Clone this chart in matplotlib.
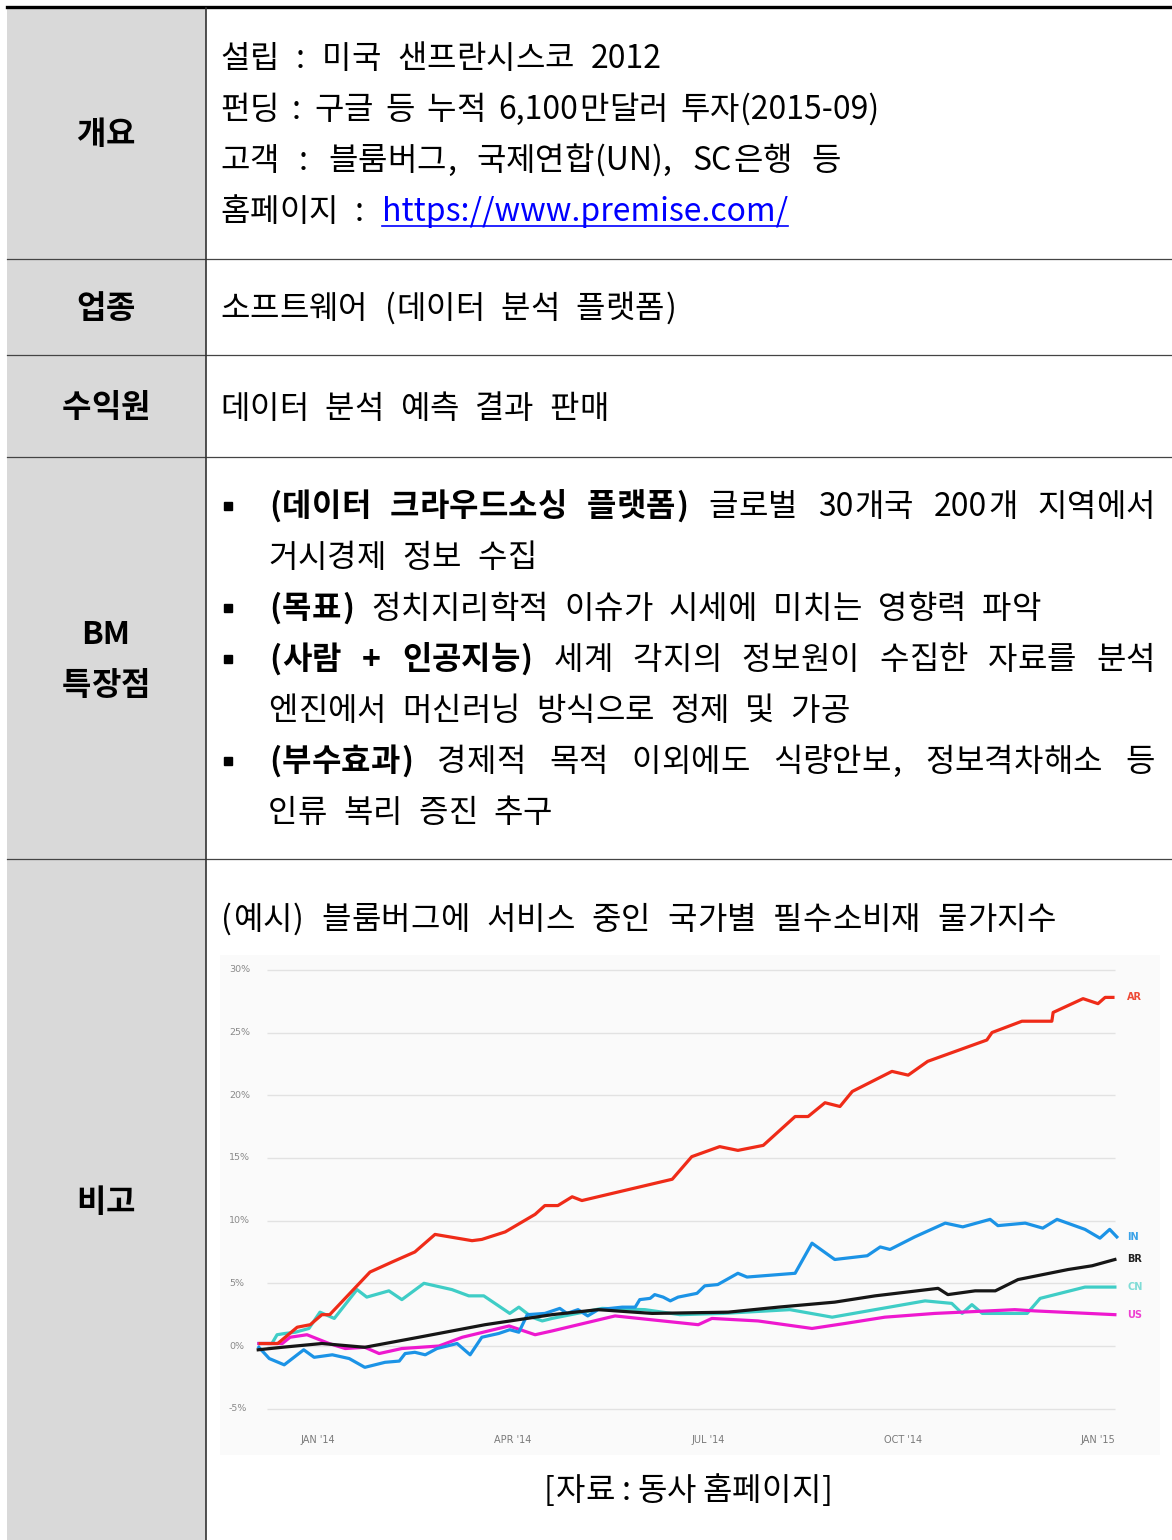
import matplotlib
matplotlib.use('Agg')
import matplotlib.pyplot as plt
from matplotlib.patches import Rectangle

plt.rcParams['font.family'] = ['Noto Sans CJK KR', 'DejaVu Sans']

# ---- chart data: x = months since Jan 2014, y = % change ----
ar_m = [-0.89, -0.62, -0.32, -0.12, 0.06, 0.18, 0.80, 1.14, 1.49, 1.80, 2.37, 2.52, 2.88,
        3.34, 3.49, 3.69, 3.91, 4.06, 5.45, 5.75, 6.18, 6.46, 6.85, 7.34, 7.54, 7.80, 8.03,
        8.22, 8.83, 9.08, 9.38, 10.29, 10.37, 10.83, 11.29, 11.31, 11.77, 12.00, 12.11, 12.23]
ar_v = [0.2, 0.2, 1.5, 1.7, 2.5, 2.5, 5.9, 6.7, 7.5, 8.9, 8.4, 8.5, 9.1,
        10.5, 11.2, 11.2, 11.9, 11.6, 13.3, 15.1, 15.9, 15.6, 16.0, 18.3, 18.3, 19.4, 19.1,
        20.3, 21.9, 21.6, 22.7, 24.4, 25.0, 25.9, 25.9, 26.6, 27.7, 27.3, 27.8, 27.8]

in_m = [-0.91, -0.75, -0.52, -0.22, -0.06, 0.22, 0.48, 0.72, 1.03, 1.25, 1.34, 1.49, 1.65,
        1.83, 2.14, 2.34, 2.52, 2.78, 2.95, 3.09, 3.22, 3.49, 3.72, 3.83, 4.00, 4.15, 4.31,
        4.68, 4.88, 4.95, 5.11, 5.18, 5.31, 5.42, 5.54, 5.83, 5.95, 6.15, 6.46, 6.60, 7.34,
        7.60, 7.95, 8.45, 8.65, 8.80, 9.18, 9.65, 9.92, 10.34, 10.46, 10.88, 11.15, 11.37,
        11.80, 12.03, 12.18, 12.29]
in_v = [-0.1, -1.0, -1.5, -0.3, -0.9, -0.7, -1.0, -1.7, -1.3, -1.2, -0.6, -0.5, -0.7,
        -0.2, 0.2, -0.7, 0.7, 1.0, 1.3, 1.1, 2.5, 2.6, 3.0, 2.6, 2.9, 2.4, 2.9,
        3.1, 3.1, 3.7, 3.8, 4.1, 3.9, 3.6, 3.9, 4.2, 4.8, 4.9, 5.8, 5.5, 5.8,
        8.2, 6.9, 7.2, 7.9, 7.7, 8.7, 9.8, 9.5, 10.1, 9.6, 9.8, 9.4, 10.1,
        9.3, 8.6, 9.3, 8.7]

br_m = [-0.92, -0.55, 0.06, 0.72, 1.55, 2.57, 3.60, 4.31, 5.14, 6.31, 7.08, 7.95, 8.57,
        9.54, 9.69, 10.11, 10.42, 10.77, 11.54, 11.91, 12.26]
br_v = [-0.3, -0.1, 0.2, -0.1, 0.7, 1.7, 2.5, 2.9, 2.6, 2.7, 3.1, 3.5, 4.0,
        4.6, 4.1, 4.4, 4.4, 5.3, 6.1, 6.4, 6.9]

cn_m = [-0.91, -0.71, -0.63, -0.51, -0.35, -0.14, 0.03, 0.25, 0.60, 0.75, 1.09, 1.29, 1.63,
        2.06, 2.32, 2.55, 2.95, 3.09, 3.29, 3.45, 3.60, 4.37, 5.03, 5.57, 6.23, 7.26, 7.91,
        9.34, 9.75, 9.91, 10.06, 10.22, 10.91, 11.11, 11.80, 12.26]
cn_v = [0.2, 0.2, 0.9, 1.0, 1.1, 1.4, 2.7, 2.2, 4.5, 3.9, 4.4, 3.7, 5.0,
        4.5, 4.0, 4.0, 2.6, 3.1, 2.3, 2.0, 2.2, 3.0, 2.9, 2.5, 2.6, 2.9, 2.3,
        3.6, 3.4, 2.6, 3.3, 2.6, 2.6, 3.8, 4.7, 4.7]

us_m = [-0.91, -0.55, -0.43, -0.17, 0.17, 0.42, 0.72, 0.94, 1.29, 1.86, 2.22, 2.94, 3.34,
        3.60, 4.57, 5.85, 6.06, 6.77, 7.60, 8.11, 8.72, 9.49, 10.72, 11.03, 12.26]
us_v = [0.2, 0.2, 0.7, 0.9, 0.2, -0.2, -0.1, -0.6, -0.2, 0.0, 0.7, 1.6, 0.9,
        1.2, 2.4, 1.7, 2.2, 2.0, 1.4, 1.8, 2.3, 2.6, 2.9, 2.8, 2.5]

y_ticks = [-5, 0, 5, 10, 15, 20, 25, 30]
x_ticks = [0, 3, 6, 9, 12]
x_tick_labels = ["JAN '14", "APR '14", "JUL '14", "OCT '14", "JAN '15"]

# ---- table text ----
row_labels = [['개요'], ['업종'], ['수익원'], ['BM', '특장점'], ['비고']]
overview = ['설립 : 미국 샌프란시스코 2012',
            '펀딩 : 구글 등 누적 6,100만달러 투자(2015-09)',
            '고객 : 블룸버그, 국제연합(UN), SC은행 등']
homepage = '홈페이지 :'
url = 'https://www.premise.com/'
industry = '소프트웨어 (데이터 분석 플랫폼)'
revenue = '데이터 분석 예측 결과 판매'
bm_bullets = [
    [('(데이터 크라우드소싱 플랫폼)', '글로벌 30개국 200개 지역에서'), '거시경제 정보 수집'],
    [('(목표)', '정치지리학적 이슈가 시세에 미치는 영향력 파악')],
    [('(사람 + 인공지능)', '세계 각지의 정보원이 수집한 자료를 분석'), '엔진에서 머신러닝 방식으로 정제 및 가공'],
    [('(부수효과)', '경제적 목적 이외에도 식량안보, 정보격차해소 등'), '인류 복리 증진 추구'],
]
chart_title = '(예시) 블룸버그에 서비스 중인 국가별 필수소비재 물가지수'
source = '[자료 : 동사 홈페이지]'

FS = 23
ADV = 29.5   # width of one hangul cell, px
GAP = 14     # space between words, px

fig = plt.figure(figsize=(11.72, 15.4), dpi=100)
base = fig.add_axes([0, 0, 1, 1])
base.set_xlim(0, 1172)
base.set_ylim(1540, 0)
base.axis('off')
r = fig.canvas.get_renderer()

# table frame
base.add_patch(Rectangle((7, 8), 199, 1532, fc='#d9d9d9', ec='none'))
base.plot([7, 1172], [7, 7], color='black', lw=2.4)
for y in [259, 355, 457, 859]:
    base.plot([7, 1172], [y, y], color='#444444', lw=0.9)
base.plot([206, 206], [8, 1540], color='#333333', lw=1.2)


def is_hangul(c):
    return '\uac00' <= c <= '\ud7a3'


def runs_of(word):
    out, cur = [], ''
    for c in word:
        if is_hangul(c):
            if cur:
                out.append(cur)
                cur = ''
            out.append(c)
        else:
            cur += c
    if cur:
        out.append(cur)
    return out


_wc = {}


def run_width(s, bold):
    if is_hangul(s[0]):
        return ADV
    key = (s, bold)
    if key not in _wc:
        t = base.text(0, 0, s, fontsize=FS, fontweight='bold' if bold else 'normal')
        _wc[key] = t.get_window_extent(renderer=r).width + 2
        t.remove()
    return _wc[key]


def word_width(word, bold):
    return sum(run_width(s, bold) for s in runs_of(word))


def draw_word(x, y, word, bold, color='black'):
    yb = y + 11
    for s in runs_of(word):
        w = run_width(s, bold)
        kw = dict(fontsize=FS, fontweight='bold' if bold else 'normal', color=color,
                  va='baseline')
        if is_hangul(s[0]):
            base.text(x + w / 2, yb, s, ha='center', **kw)
        else:
            base.text(x + 1, yb, s, ha='left', **kw)
        x += w
    return x


def words_line(x0, y, parts, x1=None, gap=GAP, color='black'):
    # parts: list of (word, bold); justified when x1 given
    widths = [word_width(w, b) for w, b in parts]
    if x1 is not None and len(parts) > 1:
        gap = (x1 - x0 - sum(widths)) / (len(parts) - 1)
    x = x0
    for (w, b) in parts:
        x = draw_word(x, y, w, b, color) + gap
    return x - gap


def plain(s, bold=False):
    return [(w, bold) for w in s.split(' ')]


label_y = [[133], [307], [406], [633, 684], [1201]]
for labs, ys in zip(row_labels, label_y):
    for lab, y in zip(labs, ys):
        w = word_width(lab, True)
        draw_word(106 - w / 2, y, lab, True)

# overview
overview_gaps = [16, 12, 19]
for i, line in enumerate(overview):
    words_line(220, 57 + 51 * i, plain(line), gap=overview_gaps[i])
xe = words_line(220, 210, plain(homepage), gap=16) + 16
xu = draw_word(xe, 210, url, False, color='#0000ff')
base.plot([xe + 1, xu - 1], [226, 226], color='#0000ff', lw=1.2)

words_line(220, 307, plain(industry), gap=16)
words_line(220, 407, plain(revenue), gap=16)

# BM bullets
y = 505
for item in bm_bullets:
    bold, rest = item[0]
    base.plot(228, y + 1, marker='s', ms=6, color='black')
    parts = plain(bold, True) + plain(rest)
    x1 = 1155 if len(item) > 1 else None
    words_line(268, y, parts, x1=x1, gap=16)
    y += 51
    for extra in item[1:]:
        words_line(268, y, plain(extra), gap=16)
        y += 51

words_line(220, 918, plain(chart_title), gap=17)
sp = plain(source)
sw = sum(word_width(w, b) for w, b in sp) + 6 * (len(sp) - 1)
words_line(688 - sw / 2, 1489, sp, gap=6)

# ---- chart ----
ax = fig.add_axes([220 / 1172, 1 - 1455 / 1540, 940 / 1172, 500 / 1540])
ax.set_facecolor('#fafafa')
ax.set_xlim(-1.508, 12.954)
ax.set_ylim(-8.69, 31.18)
for s in ax.spines.values():
    s.set_visible(False)
ax.set_xticks([])
ax.set_yticks([])

for v in y_ticks:
    ax.hlines(v, -0.785, 12.26, color='#e2e2e2', lw=1, zorder=1)
    ax.text(-1.37, v, f'{v}%', fontsize=6.8, color='#8a8a8a', ha='left', va='center',
            family='DejaVu Sans')
for m, lab in zip(x_ticks, x_tick_labels):
    ax.text(m, -7.5, lab, fontsize=7, color='#7a7a7a', ha='center', va='center',
            family='DejaVu Sans')

series = [
    ('CN', cn_m, cn_v, '#3fcdc6', '#7fdcd6'),
    ('US', us_m, us_v, '#ee18cf', '#ee3fd2'),
    ('IN', in_m, in_v, '#1b93e6', '#3aa2e8'),
    ('BR', br_m, br_v, '#161616', '#222222'),
    ('AR', ar_m, ar_v, '#ef2b18', '#ee4a36'),
]
for name, xs, ys, c, lc in series:
    ax.plot(xs, ys, color=c, lw=2.3, zorder=3)
    ax.text(12.45, ys[-1], name, color=lc, fontsize=7, fontweight='bold', ha='left',
            va='center', family='DejaVu Sans')

fig.savefig('out.png', dpi=100)
